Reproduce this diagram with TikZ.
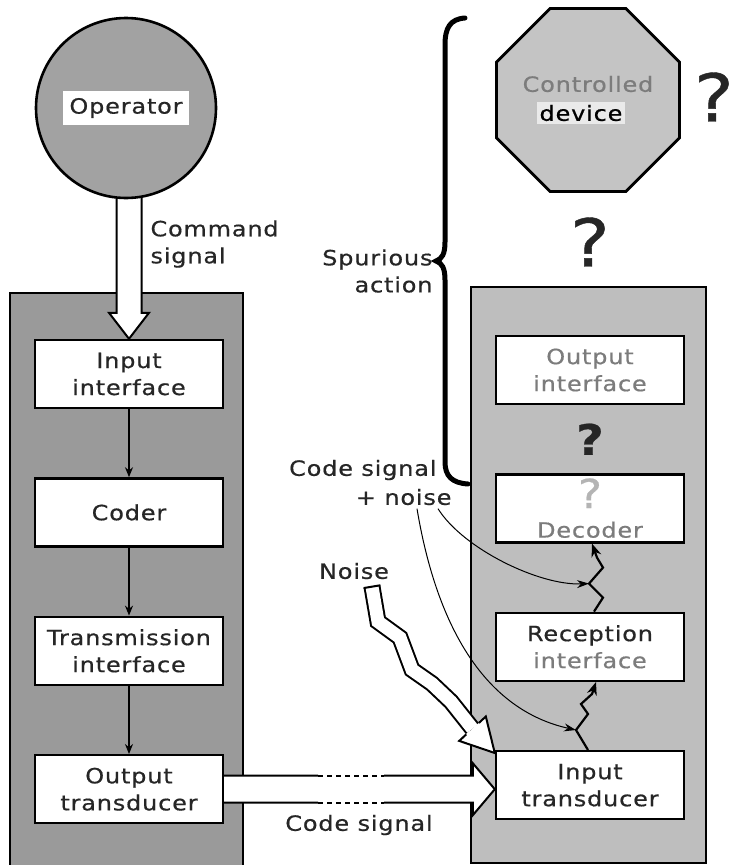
\documentclass[tikz,border=0pt]{standalone}
\usepackage{fontspec}
\setmainfont[FakeStretch=1.14, LetterSpace=4, FakeBold=0.6]{DejaVu Sans}
\usetikzlibrary{positioning, shapes.geometric, arrows.meta, calc}

\definecolor{ink}{HTML}{262626}
\definecolor{faded}{HTML}{7C7C7C}
\definecolor{pale}{HTML}{B4B4B4}
\definecolor{sendfill}{HTML}{9A9A9A}
\definecolor{recvfill}{HTML}{BEBEBE}
\definecolor{opfill}{HTML}{A2A2A2}
\definecolor{devfill}{HTML}{C4C4C4}

\begin{document}
\begin{tikzpicture}[x=1pt, y=-1pt,
    font=\fontsize{21}{27}\selectfont, text=ink,
    block/.style={draw=black, line width=2.4pt, fill=white,
        minimum width=188pt, minimum height=68pt, inner sep=0pt, align=center},
    panel/.style={draw=black, line width=2.6pt},
    hollow/.style={draw=black, line width=2pt, fill=white, line join=miter},
    flow/.style={line width=1.5pt, -{Stealth[length=10pt, width=8pt]}},
    feed/.style={line width=1pt, -{Stealth[length=12pt, width=8pt]}},
    jag/.style={line width=2.2pt, line join=miter, -{Stealth[length=13pt, width=10pt]}},
    query/.style={font=\fontsize{66}{66}\selectfont, inner sep=0pt}]

\useasboundingbox (0,0) rectangle (736,865);

\draw[panel, fill=sendfill] (10,293) rectangle (243,880);
\draw[panel, fill=recvfill] (471,287) rectangle (706,863);

\node[block] (inif) at (129,374) {Input\\interface};
\node[block, below=68pt of inif] (coder) {Coder};
\node[block, below=68pt of coder] (trans) {Transmission\\interface};
\node[block, below=68pt of trans] (outtr) {Output\\transducer};

\node[block, text=faded] (outif) at (590,370) {Output\\interface};
\node[block, below=68pt of outif] (decod) {};
\node[block, below=68pt of decod] (recep) {Reception\\\textcolor{faded}{interface}};
\node[block, below=68pt of recep] (intr) {Input\\transducer};

\node[text=faded, anchor=base] (decname) at ([yshift=6pt]decod.south) {Decoder};
\node[text=pale, font=\fontsize{40}{40}\selectfont, inner sep=0pt] (decq)
    at ([yshift=-20pt]decod.north) {?};
\node[font=\bfseries\fontsize{42}{42}\selectfont, inner sep=0pt] (qmid)
    at ($(outif.south)!0.5!(decod.north)$) {?};

\draw[hollow] (inif.north) -- ++(-20,-26) -- ++(7.5,0) -- ++(0,-150)
    -- ++(25,0) -- ++(0,150) -- ++(7.5,0) -- cycle;

\node[circle, draw=black, line width=2.6pt, fill=opfill, minimum size=180pt] (oper) at (126,108) {};
\node[fill=white, inner xsep=6pt, inner ysep=7pt] (operlbl) at (oper) {Operator};

\node[regular polygon, regular polygon sides=8, draw=black, line width=2.8pt,
    fill=devfill, minimum size=198pt] (dev) at (588,100) {};
\node[text=faded] (devtop) at (588,84) {Controlled};
\node[fill=white, fill opacity=0.65, text opacity=1, text=black, inner sep=3pt] (devbot)
    at (581,113) {device};

\node[query] (qdev) at (714,97) {?};
\node[query] (qtop) at (590,242) {?};

\node[align=left, anchor=west] (cmd) at (147,244) {Command\\signal};
\node[align=right, anchor=east] (spur) at (436,271) {Spurious\\action};
\node[anchor=east] (csig) at (440,470) {Code signal};
\node[anchor=east] (plusn) at (455,497) {+ noise};
\node (noise) at (354,571) {Noise};
\node (cslbl) at (359,825) {Code signal};

\draw[line width=5pt, line cap=round]
    (465,18) .. controls (450,19) and (445,28) .. (445,45) -- (445,242)
    .. controls (445,254) and (442,259) .. (436,261)
    .. controls (442,263) and (445,268) .. (445,280) -- (445,462)
    .. controls (445,476) and (452,483) .. (468,484);

\draw
    (inif) edge[flow] (coder)
    (coder) edge[flow] (trans)
    (trans) edge[flow] (outtr)
    ;

\coordinate (cstip) at (intr.west |- outtr.east);
\coordinate (cs1) at ($(outtr.east)+(94,0)$);
\coordinate (cs2) at ($(outtr.east)+(160,0)$);
\coordinate (cs3) at ($(cstip)+(-22,0)$);
\fill[white] ($(outtr.east)+(0,-13.5)$) -- ($(cs3)+(0,-13.5)$) -- ($(cs3)+(0,-26)$)
    -- (cstip) -- ($(cs3)+(0,26)$) -- ($(cs3)+(0,13.5)$) -- ($(outtr.east)+(0,13.5)$) -- cycle;
\draw[line width=2pt, line join=miter]
    ($(outtr.east)+(0,-13.5)$) -- ($(cs1)+(0,-13.5)$)
    ($(cs2)+(0,-13.5)$) -- ($(cs3)+(0,-13.5)$) -- ($(cs3)+(0,-26)$) -- (cstip)
    -- ($(cs3)+(0,26)$) -- ($(cs3)+(0,13.5)$) -- ($(cs2)+(0,13.5)$)
    ($(cs1)+(0,13.5)$) -- ($(outtr.east)+(0,13.5)$);
\draw[line width=2pt, dash pattern=on 5pt off 4pt]
    ($(cs1)+(0,-13.5)$) -- ($(cs2)+(0,-13.5)$)
    ($(cs1)+(0,13.5)$) -- ($(cs2)+(0,13.5)$);

\coordinate (nzstart) at ($(noise.south)+(18,4)$);
\coordinate (nztip) at ([yshift=-3pt]intr.north west);
\draw[line width=2pt, double=white, double distance=13pt, line join=miter]
    (nzstart) -- ++(6,35) -- ++(22,16) -- ++(12,32) -- ++(20,14) -- ++(19,18)
    -- ($(nztip)+(-22.3,-24.3)$);
\draw[line width=2pt] ($(nzstart)+(-8.4,1.4)$) -- ($(nzstart)+(8.4,-1.4)$);
\fill[white] ($(nztip)+(-28.6,-18.6)$) -- ($(nztip)+(-35.6,-12.1)$) -- (nztip)
    -- ($(nztip)+(-9,-36.5)$) -- ($(nztip)+(-16,-30)$) -- cycle;
\draw[line width=2pt, line join=miter] ($(nztip)+(-28.6,-18.6)$) -- ($(nztip)+(-35.6,-12.1)$)
    -- (nztip) -- ($(nztip)+(-9,-36.5)$) -- ($(nztip)+(-16,-30)$);

\draw[jag] ([xshift=4pt]recep.north) -- ++(9,-14) -- ++(-14,-14) coordinate (jn1)
    -- ++(14,-16) -- ++(-6,-10) -- ([xshift=2pt]decod.south);
\draw[jag] ([xshift=-2pt]intr.north) -- ++(-12,-20) coordinate (jn2)
    -- ++(12,-16) -- ++(-7,-10) -- ++(11,-10) -- ([xshift=6pt]recep.south);

\draw[feed] ([xshift=-17pt]plusn.south east) .. controls +(25,40) and +(-50,2) .. (jn1);
\draw[feed] ([xshift=-38pt]plusn.south east) .. controls +(20,120) and +(-90,-20) .. (jn2);
\end{tikzpicture}
\end{document}
